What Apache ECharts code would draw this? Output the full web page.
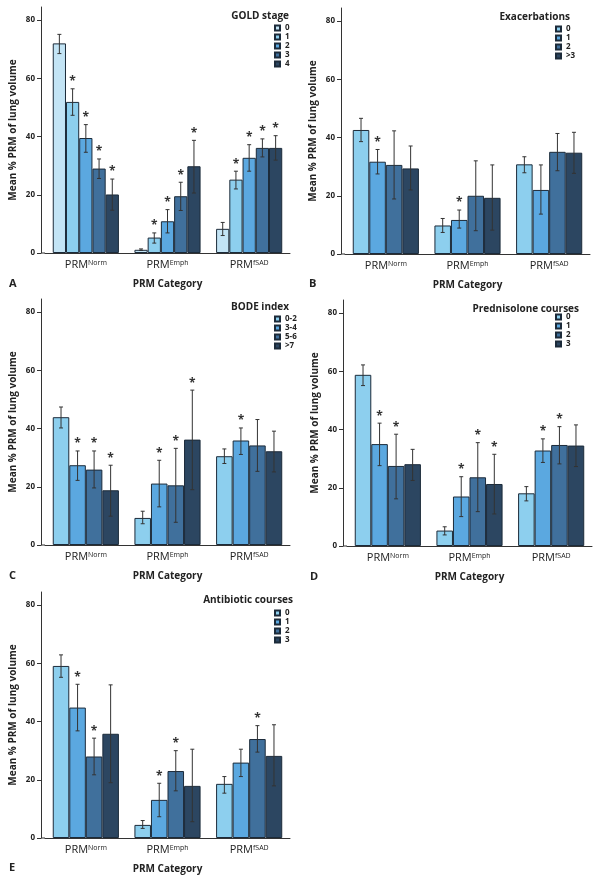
<!DOCTYPE html>
<html>
<head>
<meta charset="utf-8">
<script src="https://cdn.jsdelivr.net/npm/echarts@6/dist/echarts.min.js"></script>
<style>
html, body { margin: 0; padding: 0; background: #fff; }
#main { width: 604px; height: 882px; }
</style>
</head>
<body>
<div id="main"></div>
<script>
// PRM categories (x axis)
const categories = ['Norm', 'Emph', 'fSAD'];
const yTicks = [0, 20, 40, 60, 80];

// A - GOLD stage
const goldLevels = ['0', '1', '2', '3', '4'];
const goldMean = [[72.0, 1.1, 8.3], [51.9, 5.3, 25.2], [39.5, 10.9, 32.7], [29.0, 19.5, 36.1], [20.1, 29.8, 36.1]];
const goldLow  = [[68.5, 0.9, 6.0], [47.3, 3.4, 22.0], [34.6, 6.9, 28.1], [25.6, 14.6, 33.0], [14.7, 20.6, 31.9]];
const goldHigh = [[75.1, 1.4, 10.5], [56.4, 6.9, 28.1], [44.1, 14.9, 37.2], [32.3, 24.3, 39.2], [25.4, 38.7, 40.3]];
const goldStar = [[0, 0, 0], [1, 1, 1], [1, 1, 1], [1, 1, 1], [1, 1, 1]];

// B - Exacerbations
const exacLevels = ['0', '1', '2', '>3'];
const exacMean = [[42.6, 9.8, 30.8], [31.7, 11.7, 22.0], [30.6, 20.0, 35.1], [29.4, 19.3, 34.8]];
const exacLow  = [[38.6, 7.4, 27.9], [27.5, 8.9, 13.7], [18.9, 8.0, 28.6], [22.0, 8.2, 27.7]];
const exacHigh = [[46.6, 12.2, 33.4], [35.9, 15.1, 30.6], [42.3, 32.0, 41.4], [37.1, 30.6, 41.8]];
const exacStar = [[0, 0, 0], [1, 1, 0], [0, 0, 0], [0, 0, 0]];

// C - BODE index
const bodeLevels = ['0-2', '3-4', '5-6', '>7'];
const bodeMean = [[43.9, 9.3, 30.5], [27.4, 21.1, 35.9], [25.9, 20.5, 34.2], [18.8, 36.2, 32.2]];
const bodeLow  = [[40.2, 7.3, 28.0], [22.2, 13.1, 31.1], [19.6, 7.8, 25.3], [9.9, 19.0, 25.1]];
const bodeHigh = [[47.4, 11.6, 33.0], [32.3, 29.1, 40.2], [32.3, 33.2, 43.1], [27.4, 53.2, 39.1]];
const bodeStar = [[0, 0, 0], [1, 1, 1], [1, 1, 0], [1, 1, 0]];

// D - Prednisolone courses
const predLevels = ['0', '1', '2', '3'];
const predMean = [[58.8, 5.3, 18.1], [35.0, 17.0, 32.8], [27.5, 23.6, 34.7], [28.1, 21.3, 34.5]];
const predLow  = [[55.1, 3.8, 15.5], [27.6, 10.1, 28.7], [16.2, 11.8, 28.2], [22.5, 11.0, 27.3]];
const predHigh = [[62.2, 6.6, 20.4], [42.2, 23.8, 36.8], [38.4, 35.5, 41.0], [33.2, 31.5, 41.6]];
const predStar = [[0, 0, 0], [1, 1, 1], [1, 1, 1], [0, 1, 0]];

// E - Antibiotic courses
const abxLevels = ['0', '1', '2', '3'];
const abxMean = [[59.1, 4.5, 18.6], [44.8, 13.1, 25.9], [28.0, 23.0, 34.0], [35.8, 17.9, 28.2]];
const abxLow  = [[55.2, 3.3, 15.4], [36.8, 7.3, 21.1], [21.7, 16.2, 29.5], [19.0, 5.6, 17.9]];
const abxHigh = [[62.9, 6.0, 21.1], [52.8, 18.8, 30.5], [34.3, 30.0, 38.6], [52.6, 30.5, 38.9]];
const abxStar = [[0, 0, 0], [1, 1, 0], [1, 1, 1], [0, 0, 0]];

const FONT = '"Open Sans", "Noto Sans", sans-serif';
const TXT = '#222';
const GAP = 0.19;
const colors5 = ['#c3e4f5', '#8dcfee', '#5ba8e0', '#40709c', '#2c4661'];
const colors4 = ['#8dcfee', '#5ba8e0', '#40709c', '#2c4661'];

const panels = [
    {key: 'A', title: 'GOLD stage', levels: goldLevels, mean: goldMean, low: goldLow, high: goldHigh, star: goldStar, colors: colors5,
     left: 45, top: 7, titleRight: 315, titleTop: 11, legLeft: 274, legTop: 24, letterLeft: 9, letterTop: 278},
    {key: 'B', title: 'Exacerbations', levels: exacLevels, mean: exacMean, low: exacLow, high: exacHigh, star: exacStar, colors: colors4,
     left: 345, top: 8, titleRight: 34, titleTop: 12, legLeft: 555, legTop: 25, letterLeft: 309, letterTop: 278},
    {key: 'C', title: 'BODE index', levels: bodeLevels, mean: bodeMean, low: bodeLow, high: bodeHigh, star: bodeStar, colors: colors4,
     left: 45, top: 299, titleRight: 315, titleTop: 302, legLeft: 274, legTop: 315, letterLeft: 9, letterTop: 570},
    {key: 'D', title: 'Prednisolone courses', levels: predLevels, mean: predMean, low: predLow, high: predHigh, star: predStar, colors: colors4,
     left: 347, top: 300, titleRight: 25, titleTop: 304, legLeft: 555, legTop: 313, letterLeft: 310, letterTop: 571},
    {key: 'E', title: 'Antibiotic courses', levels: abxLevels, mean: abxMean, low: abxLow, high: abxHigh, star: abxStar, colors: colors4,
     left: 45, top: 592, titleRight: 311, titleTop: 595, legLeft: 274, legTop: 609, letterLeft: 9, letterTop: 862}
];
const GW = 245, GH = 246, YMAX = 84.5;

// error bars + significance stars
function renderErr(params, api) {
    const cat = api.value(0), si = api.value(3), n = api.value(5);
    const band = api.size([1, 0])[0];
    const groupW = band * (1 - GAP);
    const bw = groupW / n;
    const x = api.coord([cat, 0])[0] - groupW / 2 + bw * (si + 0.5);
    const yLo = api.coord([cat, api.value(1)])[1];
    const yHi = api.coord([cat, api.value(2)])[1];
    const st = {stroke: '#333', lineWidth: 1};
    const kids = [
        {type: 'line', shape: {x1: x, y1: yLo, x2: x, y2: yHi}, style: st},
        {type: 'line', shape: {x1: x - 2, y1: yHi, x2: x + 2, y2: yHi}, style: st},
        {type: 'line', shape: {x1: x - 2, y1: yLo, x2: x + 2, y2: yLo}, style: st}
    ];
    if (api.value(4)) {
        kids.push({type: 'text', x: x, y: yHi - 1,
            style: {text: '*', align: 'center', verticalAlign: 'bottom', fontSize: 12, fontWeight: 'bold', fill: '#333', fontFamily: FONT}});
    }
    return {type: 'group', children: kids};
}

let grid = [], xAxis = [], yAxis = [], legend = [], title = [], series = [], graphic = [];
panels.forEach((p, i) => {
    grid.push({left: p.left, top: p.top, width: GW, height: GH});
    xAxis.push({
        type: 'category', gridIndex: i, data: categories,
        axisLine: {lineStyle: {color: '#333', width: 1}},
        axisTick: {show: false},
        axisLabel: {
            interval: 0, margin: 6, color: TXT,
            formatter: v => '{a|PRM}{b|' + v + '}',
            rich: {
                a: {fontSize: 11, fontFamily: FONT, color: TXT, lineHeight: 12},
                b: {fontSize: 7, fontFamily: FONT, color: TXT, lineHeight: 8, verticalAlign: 'top'}
            }
        },
        name: 'PRM Category', nameLocation: 'middle', nameGap: 26,
        nameTextStyle: {fontSize: 10, fontWeight: 'bold', fontFamily: FONT, color: TXT}
    });
    yAxis.push({
        type: 'value', gridIndex: i, min: 0, max: YMAX, offset: 4,
        splitLine: {show: false},
        axisLine: {show: true, lineStyle: {color: '#333', width: 1}},
        axisTick: {show: true, length: 4, customValues: yTicks, lineStyle: {color: '#333'}},
        axisLabel: {customValues: yTicks, margin: 6, fontSize: 8, fontWeight: 'bold', fontFamily: FONT, color: TXT},
        name: 'Mean % PRM of lung volume', nameLocation: 'middle', nameGap: 23,
        nameTextStyle: {fontSize: 10, fontWeight: 'bold', fontFamily: FONT, color: TXT}
    });
    legend.push({
        orient: 'vertical', left: p.legLeft, top: p.legTop, padding: 0,
        itemWidth: 5, itemHeight: 5, itemGap: 1, selectedMode: false, icon: 'rect',
        data: p.levels.map(l => p.key + '|' + l),
        formatter: n => n.split('|')[1],
        textStyle: {fontSize: 8, fontWeight: 'bold', fontFamily: FONT, color: TXT, lineHeight: 8}
    });
    title.push({text: p.title, right: p.titleRight, top: p.titleTop, padding: 0,
        textStyle: {fontSize: 10, fontWeight: 'bold', fontFamily: FONT, color: TXT}});
    title.push({text: p.key, left: p.letterLeft, top: p.letterTop, padding: 0,
        textStyle: {fontSize: 11, fontWeight: 'bold', fontFamily: FONT, color: TXT}});
    // close the gap between y axis line and x axis line
    graphic.push({type: 'line', silent: true,
        shape: {x1: p.left - 4, y1: p.top + GH, x2: p.left, y2: p.top + GH},
        style: {stroke: '#333', lineWidth: 1}});

    const errData = [];
    p.levels.forEach((lv, s) => {
        series.push({
            name: p.key + '|' + lv, type: 'bar', xAxisIndex: i, yAxisIndex: i,
            data: p.mean[s], barGap: '0%', barCategoryGap: (GAP * 100) + '%',
            itemStyle: {color: p.colors[s], borderColor: '#1c2b3a', borderWidth: 1},
            emphasis: {disabled: true}
        });
        for (let c = 0; c < categories.length; c++) {
            errData.push([c, p.low[s][c], p.high[s][c], s, p.star[s][c], p.levels.length]);
        }
    });
    series.push({
        type: 'custom', xAxisIndex: i, yAxisIndex: i, z: 5, silent: true,
        renderItem: renderErr, encode: {x: 0, y: [1, 2]}, data: errData
    });
});

const chart = echarts.init(document.getElementById('main'));
chart.setOption({
    animation: false,
    backgroundColor: '#fff',
    title: title,
    legend: legend,
    grid: grid,
    xAxis: xAxis,
    yAxis: yAxis,
    graphic: graphic,
    series: series
});
</script>
</body>
</html>
